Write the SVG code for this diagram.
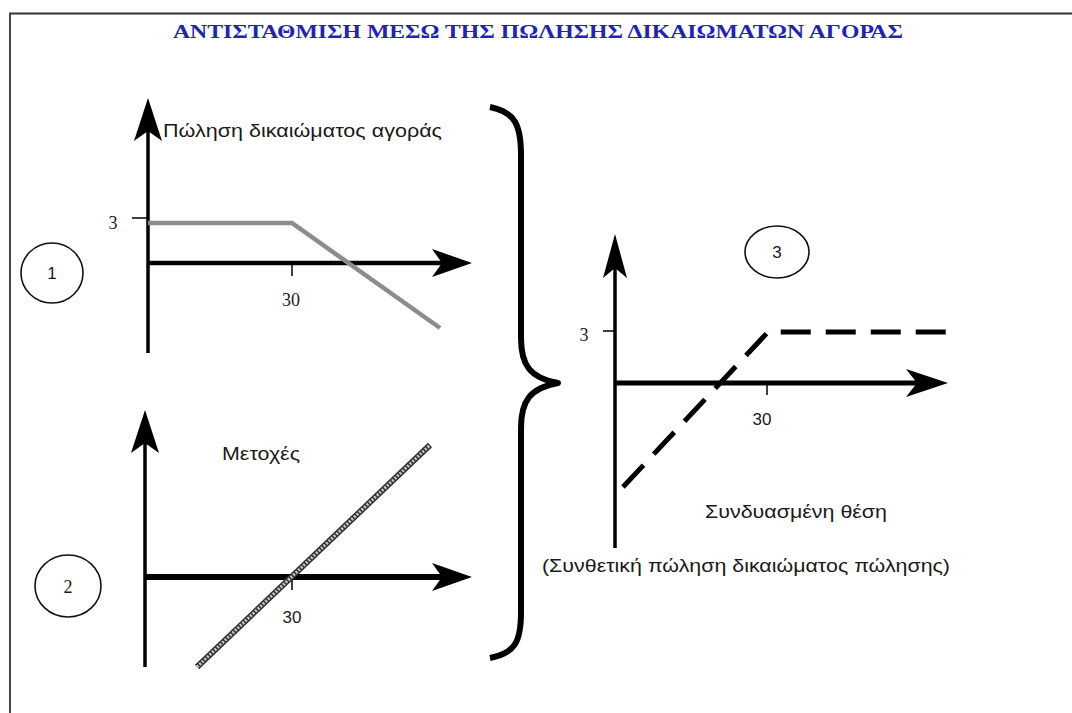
<svg xmlns="http://www.w3.org/2000/svg" width="1072" height="713" viewBox="0 0 1072 713">
<style>
.axis{stroke:#000;fill:none;stroke-linecap:butt}
.head{fill:#000;stroke:none}
.lbl{font-family:"Liberation Sans",Arial,sans-serif;font-size:18px;fill:#1a1a1a}
.num{font-family:"Liberation Sans",Arial,sans-serif;font-size:17px;fill:#1a1a1a;text-anchor:middle}
.ser{font-family:"Liberation Serif","Times New Roman",serif;font-size:18px;fill:#1a1a1a;text-anchor:middle}
.circ{fill:#fff;stroke:#111;stroke-width:1.6}
</style>
<rect width="1072" height="713" fill="#fff"/>
<path d="M10 713 V13.5 H1072" fill="none" stroke="#333" stroke-width="1.8"/>
<text x="538" y="38" text-anchor="middle" font-family="Liberation Serif,'Times New Roman',serif" font-weight="bold" font-size="19" fill="#2222bb" textLength="730" lengthAdjust="spacingAndGlyphs">ΑΝΤΙΣΤΑΘΜΙΣΗ ΜΕΣΩ ΤΗΣ ΠΩΛΗΣΗΣ ΔΙΚΑΙΩΜΑΤΩΝ ΑΓΟΡΑΣ</text>

<g id="graph1">
<line class="axis" x1="148" y1="125" x2="148" y2="353" stroke-width="3.5"/>
<path class="head" d="M148 98 L162 141 L148 131 L134 141 Z"/>
<line class="axis" x1="148" y1="263" x2="445" y2="263" stroke-width="4.5"/>
<path class="head" d="M472 263 L432 249 L442 263 L432 277 Z"/>
<line class="axis" x1="132" y1="218" x2="148" y2="218" stroke-width="1.5"/>
<line class="axis" x1="292" y1="263" x2="292" y2="276" stroke-width="1.5"/>
<polyline points="148,223 292,223 440,328" fill="none" stroke="#8c8c8c" stroke-width="4.5"/>
<text class="ser" x="113" y="229">3</text>
<text class="ser" x="291" y="306">30</text>
<text class="lbl" x="163" y="137" textLength="279" lengthAdjust="spacingAndGlyphs">Πώληση δικαιώματος αγοράς</text>
</g>

<g id="graph2">
<line class="axis" x1="145" y1="440" x2="145" y2="667" stroke-width="3.5"/>
<path class="head" d="M145 410 L159 453 L145 443 L131 453 Z"/>
<line class="axis" x1="145" y1="577" x2="445" y2="577" stroke-width="6"/>
<path class="head" d="M472 577 L432 563 L442 577 L432 591 Z"/>
<line class="axis" x1="292" y1="577" x2="292" y2="590" stroke-width="1.5"/>
<line x1="197" y1="667" x2="430" y2="445" stroke="#333" stroke-width="6"/>
<line x1="197" y1="667" x2="430" y2="445" stroke="#c8c8c8" stroke-width="3" stroke-dasharray="2 1.5"/>
<text class="num" x="292" y="623">30</text>
<text class="lbl" x="222" y="460" textLength="78" lengthAdjust="spacingAndGlyphs">Μετοχές</text>
</g>

<g id="graph3">
<line class="axis" x1="615" y1="262" x2="615" y2="548" stroke-width="3.5"/>
<path class="head" d="M615 234 L627 278 L615 268 L603 278 Z"/>
<line class="axis" x1="615" y1="383" x2="920" y2="383" stroke-width="5"/>
<path class="head" d="M948 383 L906 369 L917 383 L906 397 Z"/>
<line class="axis" x1="603" y1="331" x2="615" y2="331" stroke-width="1.5"/>
<line class="axis" x1="767" y1="383" x2="767" y2="395" stroke-width="1.5"/>
<polyline points="623,487 768,332 958,332" fill="none" stroke="#000" stroke-width="5" stroke-dasharray="30 15"/>
<text class="ser" x="584" y="341">3</text>
<text class="num" x="762" y="425">30</text>
<text class="lbl" x="705" y="518" textLength="182" lengthAdjust="spacingAndGlyphs">Συνδυασμένη θέση</text>
<text class="lbl" x="542" y="572" textLength="408" lengthAdjust="spacingAndGlyphs">(Συνθετική πώληση δικαιώματος πώλησης)</text>
</g>

<g id="brace">
<path d="M490 107 C515 112 521 125 521 155 L521 338 C521 365 530 378 558 383 C530 388 521 401 521 428 L521 612 C521 642 515 653 490 658" fill="none" stroke="#000" stroke-width="6" stroke-linejoin="round"/>
</g>

<g id="c1"><ellipse class="circ" cx="52" cy="273" rx="31" ry="30"/><text class="num" x="52" y="279">1</text></g>
<g id="c2"><ellipse class="circ" cx="68" cy="586" rx="33" ry="31"/><text class="ser" x="68" y="593">2</text></g>
<g id="c3"><ellipse class="circ" cx="777" cy="252" rx="32" ry="26"/><text class="num" x="777" y="258">3</text></g>
</svg>
